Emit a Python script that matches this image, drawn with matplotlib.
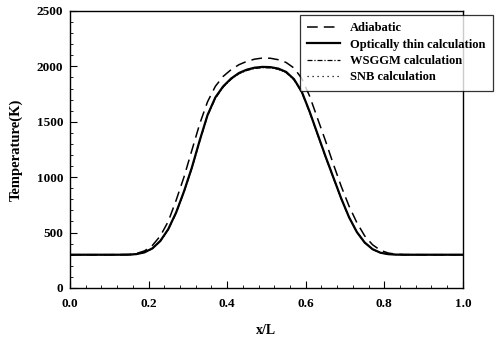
import numpy as np
import matplotlib
matplotlib.use("Agg")
import matplotlib.pyplot as plt
from matplotlib.ticker import MultipleLocator, AutoMinorLocator, FormatStrFormatter

plt.rcParams["font.family"] = ["Liberation Serif", "DejaVu Serif"]
plt.rcParams["font.weight"] = "bold"

# x/L positions
x_pos = [0.00, 0.10, 0.15, 0.17, 0.19, 0.21, 0.23, 0.25, 0.27, 0.29, 0.31,
         0.33, 0.35, 0.37, 0.39, 0.41, 0.43, 0.45, 0.47, 0.49, 0.51, 0.53,
         0.55, 0.57, 0.59, 0.61, 0.63, 0.65, 0.67, 0.69, 0.71, 0.73, 0.75,
         0.77, 0.79, 0.81, 0.83, 0.85, 0.90, 1.00]

T_adiabatic = [300, 300, 303, 312, 335, 385, 470, 600, 790, 1000, 1240,
               1480, 1680, 1820, 1910, 1970, 2015, 2045, 2065, 2075, 2073, 2060,
               2035, 1985, 1890, 1730, 1530, 1330, 1120, 920, 740, 590, 470,
               390, 340, 315, 305, 301, 300, 300]

T_thin = [300, 300, 300, 306, 322, 358, 425, 530, 680, 870, 1085,
          1330, 1560, 1720, 1820, 1890, 1940, 1970, 1988, 1995, 1993, 1980,
          1950, 1885, 1770, 1590, 1390, 1190, 1000, 810, 640, 505, 410,
          350, 318, 305, 301, 300, 300, 300]

T_wsggm = [300, 300, 300, 306, 321, 356, 422, 526, 675, 864, 1078,
           1322, 1552, 1712, 1813, 1883, 1933, 1963, 1981, 1988, 1986, 1973,
           1943, 1878, 1764, 1584, 1384, 1185, 996, 807, 637, 503, 409,
           349, 318, 305, 301, 300, 300, 300]

T_snb = [300, 300, 300, 306, 322, 357, 424, 528, 678, 867, 1082,
         1326, 1556, 1716, 1817, 1887, 1937, 1967, 1985, 1992, 1990, 1977,
         1947, 1882, 1767, 1587, 1387, 1188, 998, 809, 639, 504, 410,
         350, 318, 305, 301, 300, 300, 300]

fig = plt.figure(figsize=(5.01, 3.42), dpi=100)
ax = fig.add_axes([0.1397, 0.158, 0.7843, 0.810])

ax.plot(x_pos, T_adiabatic, color="black", lw=1.1, ls=(0, (7, 4)), label="Adiabatic")
ax.plot(x_pos, T_thin, color="black", lw=1.6, ls="-", label="Optically thin calculation")
ax.plot(x_pos, T_wsggm, color="black", lw=0.9, ls=(0, (4, 1.5, 1, 1.5)), label="WSGGM calculation")
ax.plot(x_pos, T_snb, color="black", lw=0.9, ls=(0, (1, 3)), label="SNB calculation")

ax.set_xlim(0, 1.0)
ax.set_ylim(0, 2500)
ax.xaxis.set_major_locator(MultipleLocator(0.2))
ax.xaxis.set_minor_locator(AutoMinorLocator(5))
ax.yaxis.set_major_locator(MultipleLocator(500))
ax.yaxis.set_minor_locator(AutoMinorLocator(5))
ax.xaxis.set_major_formatter(FormatStrFormatter("%.1f"))
ax.tick_params(which="both", direction="in", top=False, right=False,
               labelsize=9.5)
ax.tick_params(axis="x", which="major", pad=7)
ax.tick_params(axis="y", which="major", pad=5)
ax.tick_params(which="major", length=5, width=0.8)
ax.tick_params(which="minor", length=2.5, width=0.6)
for sp in ax.spines.values():
    sp.set_linewidth(1.0)

ax.set_xlabel("x/L", fontsize=10, fontweight="bold", labelpad=10)
ax.set_ylabel("Temperature(K)", fontsize=10.5, fontweight="bold", labelpad=10)

leg = ax.legend(loc="upper right", bbox_to_anchor=(0.996, 0.975),
                bbox_transform=fig.transFigure, fontsize=9, frameon=True,
                fancybox=False, edgecolor="black", handlelength=2.6,
                borderpad=0.6, labelspacing=0.35, handletextpad=0.8)
leg.get_frame().set_linewidth(0.9)

fig.savefig("out.png", dpi=100)
